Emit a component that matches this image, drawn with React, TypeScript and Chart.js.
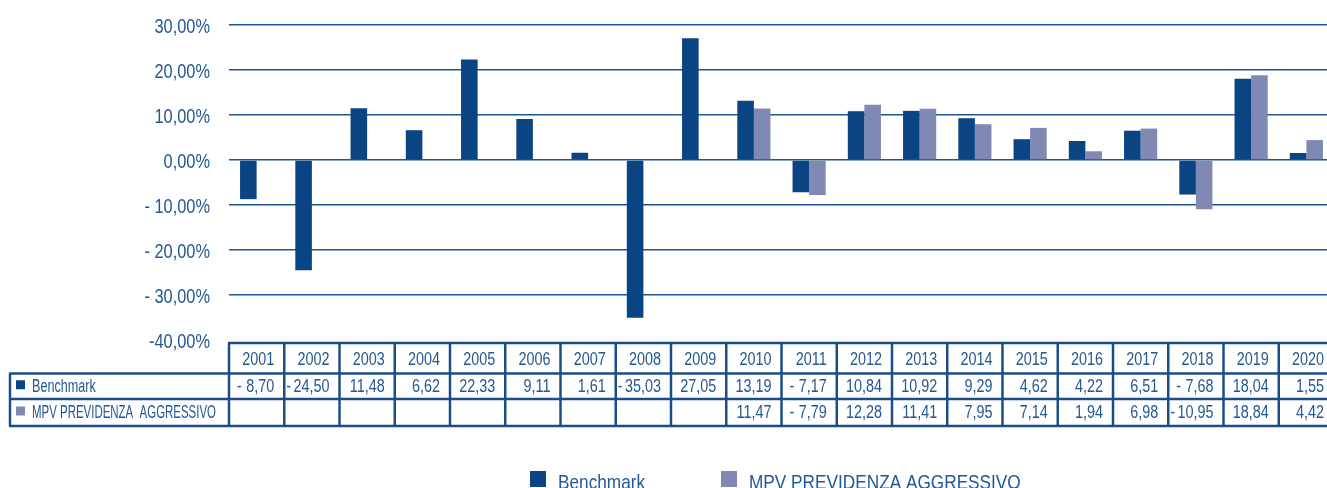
import React, { useEffect, useRef } from 'react';
import { Chart, registerables } from 'chart.js';

Chart.register(...registerables);

const years = ['2001', '2002', '2003', '2004', '2005', '2006', '2007', '2008', '2009', '2010',
  '2011', '2012', '2013', '2014', '2015', '2016', '2017', '2018', '2019', '2020'];
const benchmark = [-8.70, -24.50, 11.48, 6.62, 22.33, 9.11, 1.61, -35.03, 27.05, 13.19,
  -7.17, 10.84, 10.92, 9.29, 4.62, 4.22, 6.51, -7.68, 18.04, 1.55];
const mpv: (number | null)[] = [null, null, null, null, null, null, null, null, null, 11.47,
  -7.79, 12.28, 11.41, 7.95, 7.14, 1.94, 6.98, -10.95, 18.84, 4.42];
const seriesLabels = ['Benchmark', 'MPV PREVIDENZA AGGRESSIVO'];
const tableLabels = ['Benchmark', 'MPV PREVIDENZA  AGGRESSIVO'];
const tickValues = [30, 20, 10, 0, -10, -20, -30, -40];
const tickLabels = ['30,00%', '20,00%', '10,00%', '0,00%', '- 10,00%', '- 20,00%', '- 30,00%', '-40,00%'];

const FONT = "'Liberation Sans', Arial, sans-serif";
const NARROW = 0.82;
const C_BENCH = '#0B4482';
const C_MPV = '#7F89B3';
const C_TEXT = '#245893';
const C_GRID = '#1F5592';
const C_BORDER = '#1B4C88';

const fmt = (v: number) => Math.abs(v).toFixed(2).replace('.', ',');

function drawText(ctx: CanvasRenderingContext2D, text: string, x: number, y: number, align: CanvasTextAlign, size: number, baseline: CanvasTextBaseline = 'middle', sx: number = NARROW, maxWidth?: number) {
  ctx.save();
  ctx.translate(x, y);
  ctx.scale(sx, 1);
  ctx.font = `${size}px ${FONT}`;
  ctx.textAlign = align;
  ctx.textBaseline = baseline;
  if (maxWidth) ctx.fillText(text, 0, 0, maxWidth / sx);
  else ctx.fillText(text, 0, 0);
  ctx.restore();
}

function textWidth(ctx: CanvasRenderingContext2D, text: string, size: number) {
  ctx.save();
  ctx.font = `${size}px ${FONT}`;
  const w = ctx.measureText(text).width * NARROW;
  ctx.restore();
  return w;
}

const tablePlugin = {
  id: 'tablePlugin',
  afterDraw(chart: any) {
    const ctx: CanvasRenderingContext2D = chart.ctx;
    const xs = chart.scales.x;
    const ys = chart.scales.y;
    const n = years.length;
    const colW = (xs.right - xs.left) / n;
    const left0 = xs.left;
    const right = xs.right;
    const headTop = 343, r1 = 373.5, r2 = 399, bottom = 426, labelLeft = 10;

    ctx.save();
    ctx.fillStyle = C_TEXT;
    // y tick labels
    tickValues.forEach((v, i) => {
      drawText(ctx, tickLabels[i], 210, ys.getPixelForValue(v) + 2, 'right', 21, 'middle', 0.78);
    });

    ctx.strokeStyle = C_BORDER;
    ctx.lineWidth = 2.5;
    const line = (x1: number, y1: number, x2: number, y2: number) => {
      ctx.beginPath();
      ctx.moveTo(x1, y1);
      ctx.lineTo(x2, y2);
      ctx.stroke();
    };
    line(left0 - 1, headTop, right, headTop);
    line(labelLeft - 1, r1, right, r1);
    line(labelLeft - 1, r2, right, r2);
    line(labelLeft - 1, bottom, right, bottom);
    for (let i = 0; i <= n; i++) {
      const x = left0 + i * colW;
      line(x, headTop, x, bottom);
    }
    line(labelLeft, r1, labelLeft, bottom);

    ctx.fillStyle = C_TEXT;
    const numSize = 18;
    const numSx = 0.8;
    years.forEach((y, i) => {
      drawText(ctx, y, left0 + (i + 1) * colW - 10, (headTop + r1) / 2 + 1.5, 'right', numSize, 'middle', numSx);
    });
    const rows = [benchmark, mpv];
    const rowMid = [(r1 + r2) / 2 + 1, (r2 + bottom) / 2 + 1];
    rows.forEach((vals, ri) => {
      vals.forEach((v, i) => {
        if (v === null || v === undefined) return;
        const cl = left0 + i * colW;
        drawText(ctx, fmt(v), cl + colW - 10, rowMid[ri], 'right', numSize, 'middle', numSx);
        if (v < 0) {
          const w = textWidth(ctx, fmt(v), numSize) * numSx / NARROW;
          const dashX = Math.max(cl + 2, Math.min(cl + 8, cl + colW - 10 - w - 9));
          drawText(ctx, '-', dashX, rowMid[ri], 'left', numSize, 'middle', numSx);
        }
      });
    });
    // row labels
    const colors = [C_BENCH, C_MPV];
    tableLabels.forEach((lbl, ri) => {
      ctx.fillStyle = colors[ri];
      ctx.fillRect(16, rowMid[ri] - 7, 9, 9);
      ctx.fillStyle = C_TEXT;
      drawText(ctx, lbl, 32, rowMid[ri], 'left', 18, 'middle', 0.7, 184);
    });

    // legend
    const legendX = [530, 721];
    seriesLabels.forEach((lbl, i) => {
      ctx.fillStyle = colors[i];
      ctx.fillRect(legendX[i], 471, 16, 16);
      ctx.fillStyle = C_TEXT;
      drawText(ctx, lbl, legendX[i] + 28, 489, 'left', 21, 'alphabetic');
    });
    ctx.restore();
  },
};

export default function App() {
  const ref = useRef<HTMLCanvasElement | null>(null);
  useEffect(() => {
    if (!ref.current) return;
    const chart = new Chart(ref.current, {
      type: 'bar',
      data: {
        labels: years,
        datasets: [
          { label: seriesLabels[0], data: benchmark, backgroundColor: C_BENCH, categoryPercentage: 0.6, barPercentage: 1.0 },
          { label: seriesLabels[1], data: mpv as any, backgroundColor: C_MPV, categoryPercentage: 0.6, barPercentage: 1.0 },
        ],
      },
      options: {
        animation: false,
        responsive: false,
        devicePixelRatio: 1,
        layout: { padding: { top: 25, bottom: 148, left: 0, right: 0 } },
        plugins: { legend: { display: false }, tooltip: { enabled: false } },
        scales: {
          x: { display: false },
          y: {
            min: -40,
            max: 30,
            afterFit: (s: any) => { s.width = 229; },
            ticks: { stepSize: 10, display: false },
            grid: {
              drawTicks: false,
              lineWidth: 1.5,
              color: (c: any) => (c.tick && c.tick.value === -40 ? 'rgba(0,0,0,0)' : C_GRID),
            },
            border: { display: false },
          },
        },
      },
      plugins: [tablePlugin],
    });
    return () => chart.destroy();
  }, []);
  return (
    <div style={{ position: 'fixed', left: 0, top: 0, width: 1327, height: 488, overflow: 'hidden', background: '#fff' }}>
      <canvas ref={ref} width={1334} height={488} style={{ display: 'block', width: 1334, height: 488 }} />
    </div>
  );
}
